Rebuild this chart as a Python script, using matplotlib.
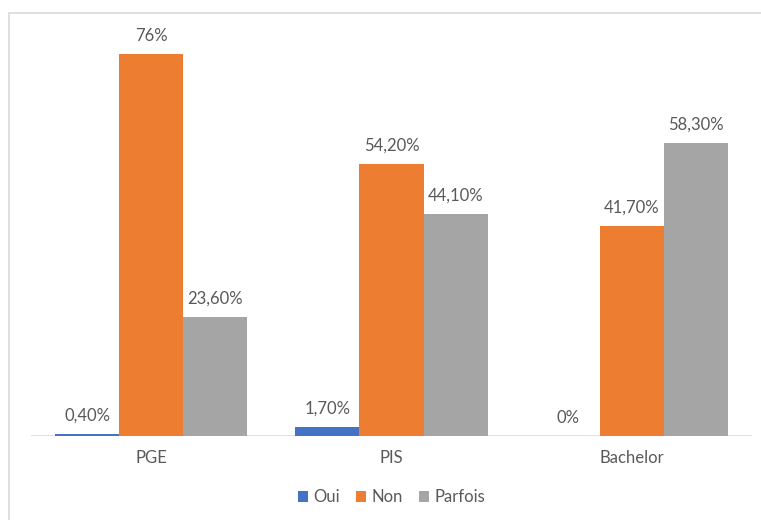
import matplotlib.pyplot as plt
import numpy as np
from matplotlib.patches import Rectangle

categories = ['PGE', 'PIS', 'Bachelor']
series_names = ['Oui', 'Non', 'Parfois']
oui = [0.40, 1.70, 0.0]
non = [76.0, 54.20, 41.70]
parfois = [23.60, 44.10, 58.30]

blue = '#4472C4'
orange = '#ED7D31'
grey = '#A5A5A5'
text_grey = '#595959'

plt.rcParams['font.family'] = ['Lato', 'DejaVu Sans']


def fmt_pct(v):
    # integers print without decimals, the rest with two (comma separator)
    if float(v).is_integer():
        return f'{int(v)}%'
    return f'{v:.2f}'.replace('.', ',') + '%'


fig = plt.figure(figsize=(7.61, 5.2), dpi=100)

# light frame round the chart area
fig.patches.append(Rectangle((9 / 761, -0.1), 1.2, 1 - 13 / 520 + 0.1,
                             transform=fig.transFigure, facecolor='none',
                             edgecolor='#D9D9D9', linewidth=1.2))

ax = fig.add_axes([31 / 761, 84 / 520, 721 / 761, 402 / 520])

x = np.arange(len(categories))
width = 0.8 / 3
for i, (vals, name, col) in enumerate(zip([oui, non, parfois], series_names,
                                          [blue, orange, grey])):
    bars = ax.bar(x + (i - 1) * width, vals, width, color=col, label=name)
    for b, v in zip(bars, vals):
        ax.annotate(fmt_pct(v), (b.get_x() + b.get_width() / 2, v),
                    xytext=(0, 13.3), textcoords='offset points',
                    ha='center', va='center', fontsize=12, color=text_grey)

ax.set_xlim(-0.5, len(categories) - 0.5)
ax.set_ylim(0, 80)
ax.axhline(0, color='#D9D9D9', linewidth=1.2, zorder=0)
for s in ax.spines.values():
    s.set_visible(False)
ax.set_yticks([])
ax.set_xticks(x)
ax.set_xticklabels(categories, fontsize=12, color=text_grey)
ax.tick_params(axis='x', length=0, pad=10)

ax.legend(loc='upper center', bbox_to_anchor=(0.5, -0.095), ncol=3,
          frameon=False, fontsize=12, handlelength=0.6, handleheight=0.6,
          handletextpad=0.3, columnspacing=1.0, labelcolor=text_grey)

fig.savefig('out.png', dpi=100)
